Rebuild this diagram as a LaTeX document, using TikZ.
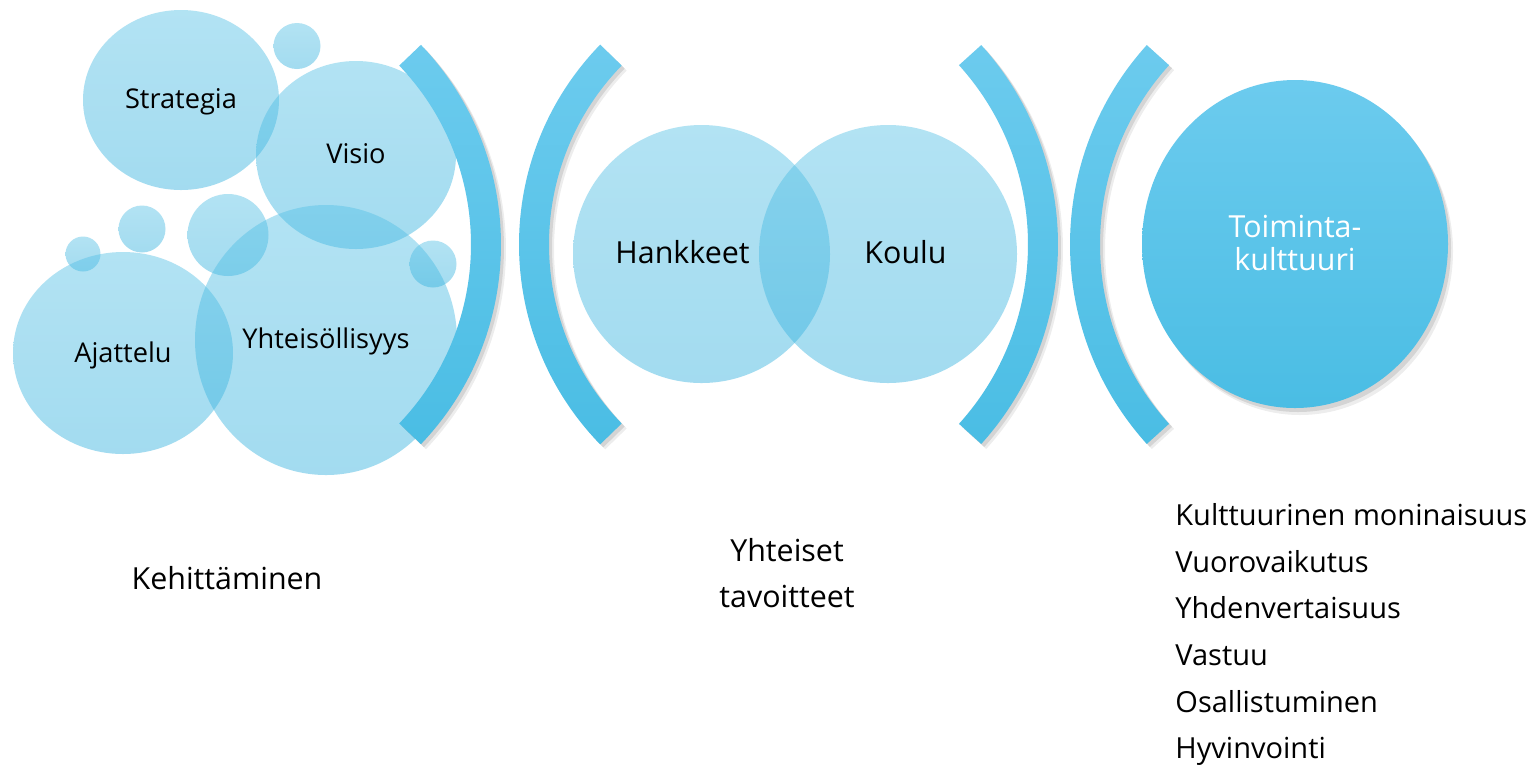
\documentclass[tikz,border=0pt]{standalone}
\usepackage{fontspec}
\setmainfont{Open Sans}
\usetikzlibrary{shapes.geometric}
\definecolor{bubtop}{HTML}{56C1E6}
\definecolor{bubbot}{HTML}{33B1DE}
\definecolor{bandtop}{HTML}{6CCBEE}
\definecolor{bandbot}{HTML}{4ABDE4}
\begin{document}
\begin{tikzpicture}[x=0.5pt,y=-0.5pt,
  bubble/.style={ellipse, inner sep=0pt, outer sep=0pt, draw=none,
    top color=bubtop, bottom color=bubbot, fill opacity=0.45},
  bigdisc/.style={ellipse, inner sep=0pt, outer sep=0pt, draw=none,
    top color=bandtop, bottom color=bandbot},
  band/.style={draw=none, top color=bandtop, bottom color=bandbot},
  bandshadow/.style={fill=black, draw=none},
  lbl/.style={text=black, anchor=base, inner sep=0pt, font=\fontsize{13.6}{16}\selectfont},
  biglbl/.style={text=black, anchor=base, inner sep=0pt, font=\fontsize{15.2}{18}\selectfont},
  listlbl/.style={text=black, anchor=base west, inner sep=0pt, font=\fontsize{14.5}{17}\selectfont},
]
\useasboundingbox (0,0) rectangle (1537,768);
\fill[white] (0,0) rectangle (1537,768);

% left cluster of bubbles
\node[bubble, minimum width=98pt, minimum height=90pt] (strategia) at (181,100) {};
\node[bubble, minimum width=23.5pt, minimum height=23pt] (s1) at (297,46) {};
\node[bubble, minimum width=100pt, minimum height=94pt] (visio) at (356,155) {};
\node[bubble, minimum width=40.5pt, minimum height=41pt] (s2) at (228,235) {};
\node[bubble, minimum width=23.5pt, minimum height=23.5pt] (s3) at (142,229) {};
\node[bubble, minimum width=17.5pt, minimum height=17.5pt] (s4) at (83,254) {};
\node[bubble, minimum width=110pt, minimum height=101pt] (ajattelu) at (123,353) {};
\node[bubble, minimum width=131pt, minimum height=135pt] (yhteis) at (326,340) {};
\node[bubble, minimum width=23.5pt, minimum height=23.5pt] (s5) at (433,264) {};

% middle pair
\node[bubble, minimum width=128.5pt, minimum height=129pt] (hankkeet) at (701.5,254) {};
\node[bubble, minimum width=129pt, minimum height=129pt] (koulu) at (888,254) {};

% brackets: shadows
\foreach \cx/\Ro/\Ri/\aa/\ab in {212/144.5pt/129.5pt/-43.7/43.7, 805.7/143.35pt/128.35pt/135.8/224.2,
  760.5/148.75pt/133.75pt/-42.1/42.1, 1367.5/148.75pt/133.75pt/137.9/222.1}{
  \path[bandshadow, opacity=0.10, shift={(\cx+3,247.5)}]
    (\aa:\Ro) arc[start angle=\aa, end angle=\ab, radius=\Ro]
    -- (\ab:\Ri) arc[start angle=\ab, end angle=\aa, radius=\Ri] -- cycle;
  \path[bandshadow, opacity=0.07, shift={(\cx+5,249.5)}]
    (\aa:\Ro) arc[start angle=\aa, end angle=\ab, radius=\Ro]
    -- (\ab:\Ri) arc[start angle=\ab, end angle=\aa, radius=\Ri] -- cycle;
}
% brackets
\foreach \cx/\Ro/\Ri/\aa/\ab in {212/144.5pt/129.5pt/-43.7/43.7, 805.7/143.35pt/128.35pt/135.8/224.2,
  760.5/148.75pt/133.75pt/-42.1/42.1, 1367.5/148.75pt/133.75pt/137.9/222.1}{
  \path[band, shift={(\cx,244.5)}]
    (\aa:\Ro) arc[start angle=\aa, end angle=\ab, radius=\Ro]
    -- (\ab:\Ri) arc[start angle=\ab, end angle=\aa, radius=\Ri] -- cycle;
}

% right big disc with shadow
\fill[black, opacity=0.10] (1298,248) ellipse [x radius=76.5pt, y radius=82pt];
\fill[black, opacity=0.07] (1300,251) ellipse [x radius=76.5pt, y radius=82pt];
\node[bigdisc, minimum width=153pt, minimum height=164pt] (toim) at (1295,244) {};

% labels
\node[lbl] (tstrategia) at (181,108) {Strategia};
\node[lbl] (tvisio) at (356,163) {Visio};
\node[lbl] (tajattelu) at (123,362) {Ajattelu};
\node[lbl] (tyhteis) at (326,348) {Yhteisöllisyys};
\node[biglbl] (thankkeet) at (682.5,263) {Hankkeet};
\node[biglbl] (tkoulu) at (905.5,263) {Koulu};
\node[biglbl, text=white] (ttoim1) at (1295,237) {Toiminta-};
\node[biglbl, text=white] (ttoim2) at (1295,270) {kulttuuri};

\node[biglbl] (tkehit) at (227,589) {Kehittäminen};
\node[biglbl] (tyht1) at (787,561) {Yhteiset};
\node[biglbl] (tyht2) at (787,607) {tavoitteet};

\node[listlbl] (l1) at (1175,525) {Kulttuurinen moninaisuus};
\node[listlbl] (l2) at (1175,572) {Vuorovaikutus};
\node[listlbl] (l3) at (1175,618) {Yhdenvertaisuus};
\node[listlbl] (l4) at (1175,665) {Vastuu};
\node[listlbl] (l5) at (1175,712) {Osallistuminen};
\node[listlbl] (l6) at (1175,758) {Hyvinvointi};
\end{tikzpicture}
\end{document}
